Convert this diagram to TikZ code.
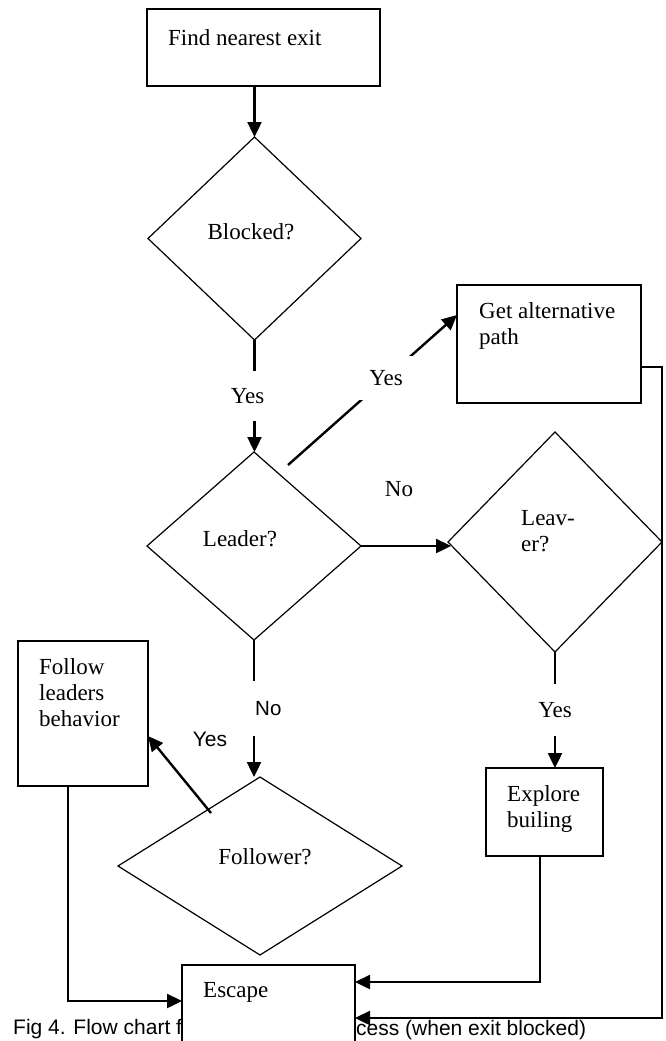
\documentclass[tikz,border=0pt]{standalone}
\usepackage{fontspec}
\setmainfont{Liberation Serif}
\setsansfont{Liberation Sans}
\usetikzlibrary{shapes.geometric,arrows.meta}

\tikzset{
    box/.style={draw, line width=1.4pt, fill=white, inner sep=0pt, outer sep=0pt},
    test/.style={draw, diamond, line width=1.2pt, inner sep=0pt, outer sep=0pt},
    txt/.style={font=\fontsize{23}{26}\selectfont, inner sep=0pt, align=left},
    lbl/.style={font=\fontsize{23}{26}\selectfont, fill=white, inner xsep=2pt, inner ysep=17pt},
    slbl/.style={font=\sffamily\fontsize{20.5}{24}\selectfont, fill=white, inner xsep=3pt, inner ysep=20pt},
    sanstxt/.style={font=\sffamily\fontsize{21}{24}\selectfont, inner sep=0pt},
    flow/.style={line width=2.4pt, -{Triangle[length=15pt,width=14pt]}},
}

\begin{document}
\begin{tikzpicture}[x=1pt, y=-1pt]
    \useasboundingbox (0,0) rectangle (665,1041);

    % Caption, partly under the Escape box
    \node[sanstxt, anchor=base west] (cap1) at (13,1034) {Fig 4. Flow chart f};
    \node[sanstxt, anchor=base west] (cap2) at (356,1035) {cess (when exit blocked)};

    % Boxes
    \node[box, minimum width=233pt, minimum height=77pt] (find) at (263.5,47.5) {};
    \node[box, minimum width=184pt, minimum height=118pt] (alt) at (549,344) {};
    \node[box, minimum width=130pt, minimum height=145pt] (follow) at (83,713.5) {};
    \node[box, minimum width=117pt, minimum height=88pt] (explore) at (544.5,812) {};
    \node[box, minimum width=173pt, minimum height=105pt] (escape) at (268.5,1017.5) {};

    % Decisions
    \node[test, minimum width=213pt, minimum height=203pt] (blocked) at (254.5,238.5) {};
    \node[test, minimum width=214pt, minimum height=188pt] (leader) at (254,546) {};
    \node[test, minimum width=214pt, minimum height=220pt] (leaver) at (555,542) {};
    \node[test, minimum width=284pt, minimum height=178pt] (follower) at (260,866) {};

    % Texts
    \node[txt, anchor=north west] (findtxt) at (168,29) {Find nearest exit};
    \node[txt] (blockedtxt) at (251,232) {Blocked?};
    \node[txt, anchor=north west] (alttxt) at (479,302) {Get alternative\\path};
    \node[txt] (leadertxt) at (240,539) {Leader?};
    \node[txt, anchor=north west] (leavertxt) at (521,510) {Leav-\\er?};
    \node[txt, anchor=north west] (followtxt) at (39,658) {Follow\\leaders\\behavior};
    \node[txt, anchor=north west] (exploretxt) at (507,785) {Explore\\builing};
    \node[txt] (followertxt) at (265,857) {Follower?};
    \node[txt, anchor=base west] (escapetxt) at (203,997) {Escape};

    % Flow
    \draw[flow] (blocked.north |- find.south) -- (blocked.north);
    \draw[flow] (blocked.south) -- (blocked.south |- leader.north)
        node[lbl, midway, xshift=-7pt] (yes1) {Yes};
    \draw[flow] ([shift={(34,13)}]leader.north) -- ([yshift=-30pt]alt.north west)
        node[lbl, pos=.58, inner xsep=16pt, inner ysep=14pt] (yes2) {Yes};
    \draw[flow] (leader.east) -- ([xshift=3pt]leader.east -| leaver.west);
    \node[txt] (no1) at (399,489) {No};
    \draw[flow] (leader.south) -- (leader.south |- follower.north)
        node[slbl, midway, anchor=west, xshift=-3pt] (no2) {No};
    \draw[flow] (leaver.south) -- (leaver.south |- explore.north)
        node[lbl, midway, inner ysep=18pt] (yes3) {Yes};
    \draw[flow] ([shift={(-49,36)}]follower.north) -- ([yshift=-95pt]follow.north east);
    \node[sanstxt] (yes4) at (210,739) {Yes};

    % Into Escape
    \coordinate (r1) at (662,367);
    \coordinate (r2) at (662,1018);
    \draw[flow] (alt.east |- r1) -- (r1) -- (r2) -- (escape.east |- r2);
    \coordinate (e1) at (540,982);
    \draw[flow] (explore.south -| e1) -- (e1) -- (escape.east |- e1);
    \coordinate (f1) at (68,1001);
    \draw[flow] (follow.south -| f1) -- (f1) -- (escape.west |- f1);
\end{tikzpicture}
\end{document}
